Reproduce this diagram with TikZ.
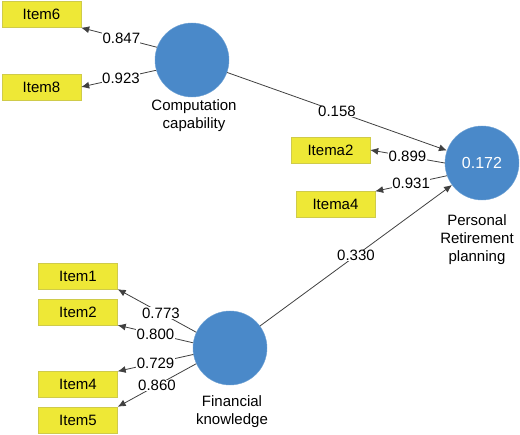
\documentclass[tikz,border=0pt]{standalone}
\usepackage{fontspec}
\setmainfont{Liberation Sans}
\usetikzlibrary{arrows.meta}
\definecolor{lvblue}{HTML}{4A89C9}
\definecolor{itemyellow}{HTML}{EEE836}
\definecolor{itemborder}{HTML}{CFCB4A}
\begin{document}
\begin{tikzpicture}[x=1pt,y=-1pt,
  latent/.style={circle,fill=lvblue,draw=lvblue!80!white,minimum size=74pt,inner sep=0pt,text=white,font=\fontsize{16}{18}\selectfont},
  itembox/.style={rectangle,fill=itemyellow,draw=itemborder,minimum width=79pt,minimum height=26pt,inner sep=0pt,font=\fontsize{15}{17}\selectfont},
  lvlabel/.style={align=center,font=\fontsize{15}{18}\selectfont},
  coef/.style={fill=white,inner sep=0.3pt,font=\fontsize{15}{17}\selectfont},
  conn/.style={draw=black!75,line width=0.8pt,-{Latex[length=8pt,width=7pt]}}
]
\useasboundingbox (0,0) rectangle (520,435);
% latent variables
\node[latent] (cc) at (192,60) {};
\node[latent] (prp) at (482,163) {0.172};
\node[latent] (fk) at (230,348) {};
\node[lvlabel] (cclab) at (194,116) {Computation\\capability};
\node[lvlabel] (prplab) at (477,240) {Personal\\Retirement\\planning};
\node[lvlabel] (fklab) at (232,412) {Financial\\knowledge};
% items
\node[itembox] (i6) at (41.5,14.5) {Item6};
\node[itembox] (i8) at (41.5,87) {Item8};
\node[itembox] (ia2) at (330.5,150) {Itema2};
\node[itembox] (ia4) at (335.5,204.5) {Itema4};
\node[itembox] (i1) at (78,276) {Item1};
\node[itembox] (i2) at (78,312) {Item2};
\node[itembox] (i4) at (78,384.5) {Item4};
\node[itembox] (i5) at (78,420) {Item5};
% outer loadings
\draw[conn] (cc.160) -- node[coef,pos=0.47] {0.847} (i6.south east);
\draw[conn] (cc.196) -- node[coef,pos=0.47] {0.923} (i8.east);
\draw[conn] (prp.180) -- node[coef,pos=0.5] {0.899} (ia2.east);
\draw[conn] (prp.200) -- node[coef,pos=0.5] {0.931} (ia4.north east);
\draw[conn] (fk.155) -- node[coef,pos=0.45] {0.773} (i1.south east);
\draw[conn] (fk.172) -- node[coef,pos=0.5] {0.800} (i2.south east);
\draw[conn] (fk.190) -- node[coef,pos=0.5] {0.729} (i4.north east);
\draw[conn] (fk.205) -- node[coef,pos=0.5] {0.860} (i5.north east);
% paths
\draw[conn] (cc) -- node[coef,pos=0.5] {0.158} (prp);
\draw[conn] (fk) -- node[coef,pos=0.5] {0.330} (prp);
\end{tikzpicture}
\end{document}
